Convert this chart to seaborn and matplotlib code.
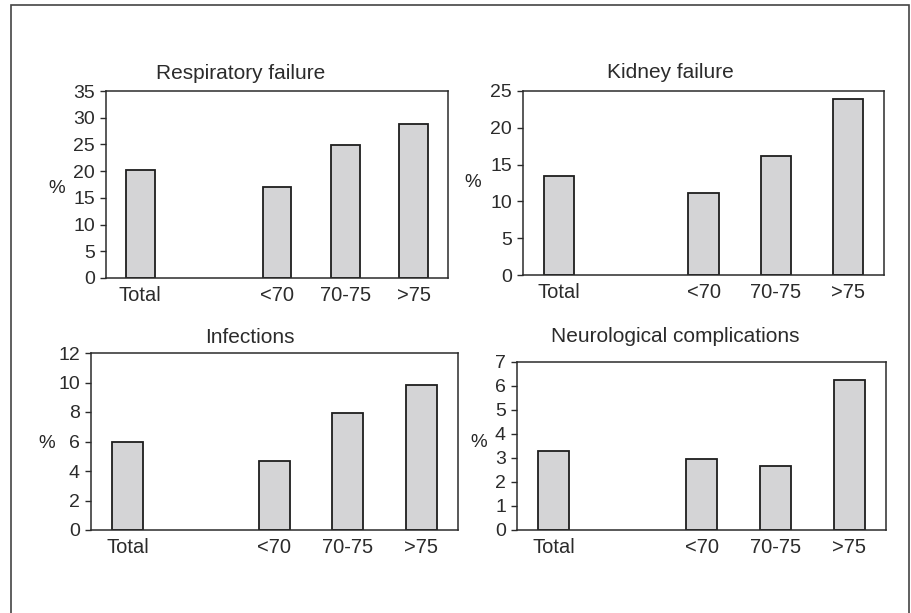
import seaborn as sns
import matplotlib.pyplot as plt
import pandas as pd
from matplotlib.patches import Rectangle

# Data (percent)
groups = ["Total", "<70", "70-75", ">75"]
respiratory = [20.2, 17.0, 24.8, 28.8]
kidney = [13.4, 11.2, 16.2, 23.9]
infections = [6.0, 4.7, 7.95, 9.8]
neurological = [3.3, 2.95, 2.67, 6.24]

titles = ["Respiratory failure", "Kidney failure", "Infections", "Neurological complications"]
series = [respiratory, kidney, infections, neurological]
y_max = [35, 25, 12, 7]
y_step = [5, 5, 2, 1]

# a blank slot between "Total" and the age groups
order = ["Total", " ", "<70", "70-75", ">75"]

W, H = 911, 613
sns.set_style("white")
plt.rcParams['font.family'] = ['Liberation Sans', 'DejaVu Sans']
plt.rcParams['text.color'] = '#2b2b2b'
plt.rcParams['xtick.color'] = '#2b2b2b'
plt.rcParams['ytick.color'] = '#2b2b2b'

fig = plt.figure(figsize=(W / 100, H / 100), dpi=100)

# axes boxes in pixels: left, top, right, bottom
boxes = [(106, 91, 448, 278), (523, 91, 884, 275), (91, 353, 458, 530), (517, 362, 886, 530)]
title_pos = [(241, 79), (670, 78), (250, 343), (675, 342)]
pct_pos = [(-0.144, 0.48), (-0.139, 0.505), (-0.12, 0.49), (-0.103, 0.52)]

for i in range(4):
    l, t, r, b = boxes[i]
    ax = fig.add_axes([l / W, 1 - b / H, (r - l) / W, (b - t) / H])
    df = pd.DataFrame({"group": groups, "pct": series[i]})
    sns.barplot(data=df, x="group", y="pct", order=order, ax=ax, width=0.42,
                color="#d4d4d6", edgecolor="#1e1e1e", linewidth=1.3, saturation=1)
    ax.set_xlim(-0.5, 4.5)
    ax.set_ylim(0, y_max[i])
    ax.set_yticks(range(0, y_max[i] + 1, y_step[i]))
    ax.tick_params(axis='y', left=True, direction='out', length=4, width=1,
                   pad=4, labelsize=14)
    ax.tick_params(axis='x', bottom=False, length=0, pad=6, labelsize=14.5)
    for s in ax.spines.values():
        s.set_visible(True)
        s.set_color('#2b2b2b')
        s.set_linewidth(1.1)
    ax.set_xlabel("")
    ax.set_ylabel("%", rotation=0, fontsize=13.5, ha='center', va='center')
    ax.yaxis.set_label_coords(*pct_pos[i])
    tx, ty = title_pos[i]
    fig.text(tx / W, 1 - ty / H, titles[i], ha='center', va='baseline', fontsize=15)

# outer frame
fig.add_artist(Rectangle((11 / W, -0.05), 898 / W, 1.05 - 5 / H,
                         transform=fig.transFigure, fill=False,
                         edgecolor='#444444', linewidth=1.2))

plt.savefig("out.png", dpi=100)
